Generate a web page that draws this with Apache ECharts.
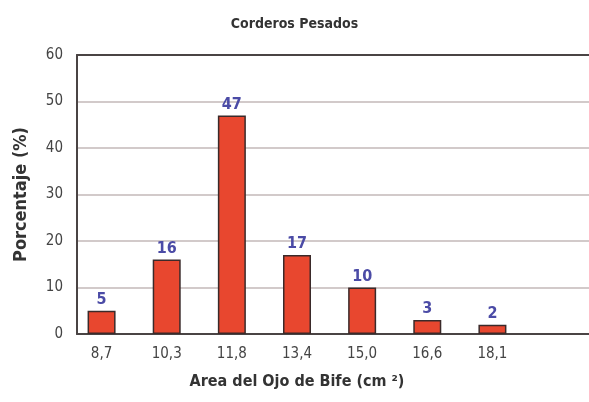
<!DOCTYPE html>
<html lang="es">
<head>
    <meta charset="UTF-8">
    <title>Corderos Pesados</title>
    <script src="https://cdn.jsdelivr.net/npm/echarts@6.0.0/dist/echarts.min.js"></script>
    <style>
        * { margin: 0; padding: 0; }
        body { background: #fff; }
        #chart { width: 589px; height: 402px; }
    </style>
</head>
<body>
    <div id="chart"></div>
    <script>
        // datos
        const categorias = ['8,7', '10,3', '11,8', '13,4', '15,0', '16,6', '18,1'];
        const porcentajes = [5, 16, 47, 17, 10, 3, 2];
        const yTicks = [0, 10, 20, 30, 40, 50, 60];

        const fuente = '"DejaVu Sans Condensed", "Liberation Sans Narrow", "Liberation Sans", sans-serif';
        const chart = echarts.init(document.getElementById('chart'));

        // línea oscura del marco (arriba / abajo)
        const lineaMarco = (pos) => ({
            gridIndex: 0, type: 'value', min: 0, max: 1, position: pos,
            axisLine: { show: true, lineStyle: { color: '#4a4444', width: 2 } },
            axisTick: { show: false }, axisLabel: { show: false }, splitLine: { show: false }
        });

        chart.setOption({
            animation: false,
            title: {
                text: 'Corderos Pesados',
                left: 'center',
                top: 12,
                textStyle: { fontFamily: fuente, fontSize: 14, fontWeight: 'bold', color: '#333' }
            },
            grid: [
                // marco con líneas de división
                { left: 77, top: 55, right: -20, bottom: 68 },
                // barras
                { left: 69, top: 55, width: 456, bottom: 68 }
            ],
            xAxis: [
                lineaMarco('bottom'),
                lineaMarco('top'),
                {
                    gridIndex: 1,
                    type: 'category',
                    data: categorias,
                    axisLine: { show: false },
                    axisTick: { show: false },
                    axisLabel: { fontFamily: fuente, fontSize: 15, color: '#444', margin: 13 },
                    name: 'Area del Ojo de Bife (cm ²)',
                    nameLocation: 'middle',
                    nameGap: 40,
                    nameTextStyle: { fontFamily: fuente, fontSize: 16, fontWeight: 'bold', color: '#333' }
                }
            ],
            yAxis: [
                {
                    gridIndex: 0,
                    type: 'value',
                    min: yTicks[0],
                    max: yTicks[yTicks.length - 1],
                    interval: 10,
                    axisLine: { show: true, lineStyle: { color: '#4a4444', width: 2 } },
                    axisTick: { show: false },
                    axisLabel: { fontFamily: fuente, fontSize: 15, color: '#444', margin: 14 },
                    splitLine: { lineStyle: { color: '#d2caca', width: 2 } },
                    name: 'Porcentaje (%)',
                    nameLocation: 'middle',
                    nameGap: 47,
                    nameTextStyle: { fontFamily: fuente, fontSize: 18, fontWeight: 'bold', color: '#333' }
                },
                { gridIndex: 1, type: 'value', min: 0, max: 60, show: false }
            ],
            series: [{
                type: 'bar',
                xAxisIndex: 2,
                yAxisIndex: 1,
                data: porcentajes,
                barWidth: 28,
                z: 3,
                itemStyle: { color: '#e8472f', borderColor: '#3a2a2a', borderWidth: 1.5 },
                label: {
                    show: true,
                    position: 'top',
                    distance: 3,
                    fontFamily: fuente,
                    fontSize: 16,
                    fontWeight: 'bold',
                    color: '#4b4ba6'
                }
            }]
        });
    </script>
</body>
</html>
